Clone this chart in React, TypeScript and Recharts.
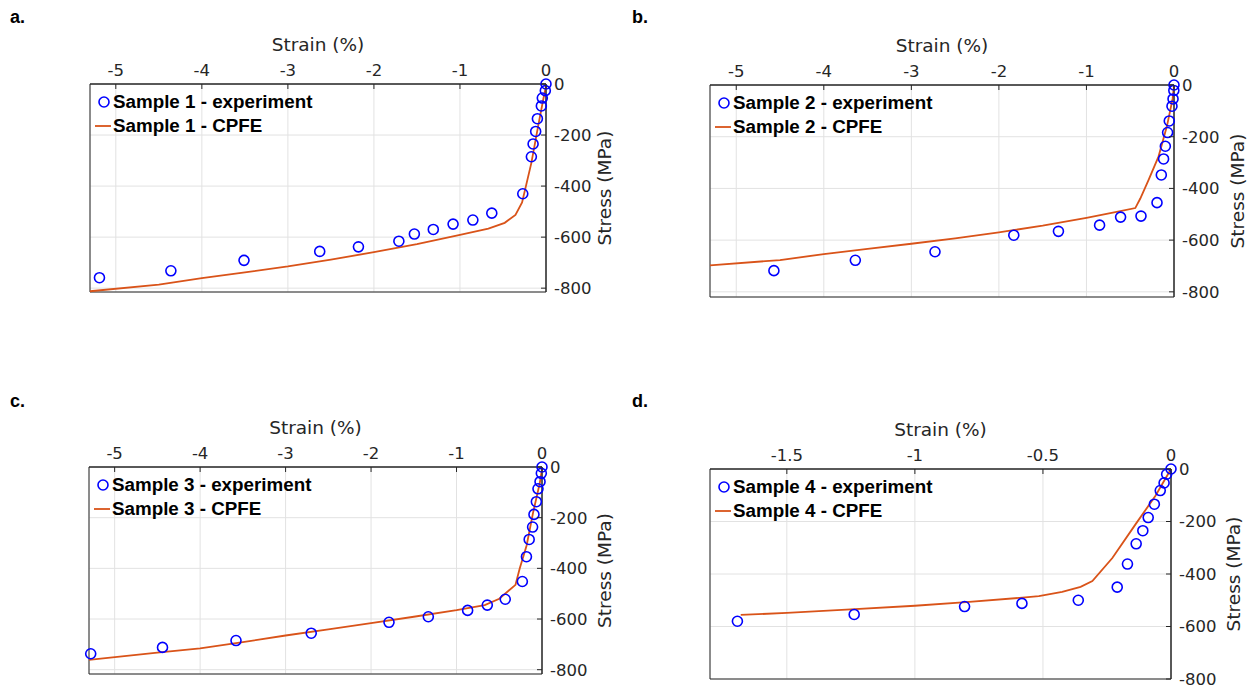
import React from "react";
import {
  ComposedChart,
  Line,
  Scatter,
  XAxis,
  YAxis,
  CartesianGrid,
  ReferenceArea,
  Legend,
} from "recharts";

const strainTicksWide = [-5, -4, -3, -2, -1, 0];
const strainTicksNarrow = [-1.5, -1, -0.5, 0];
const stressTicks = [-800, -600, -400, -200, 0];

// Sample 1
const s1ExpStrain = [-5.19, -4.36, -3.51, -2.63, -2.18, -1.71, -1.53, -1.31, -1.08, -0.85, -0.63, -0.27, -0.17, -0.15, -0.12, -0.1, -0.054, -0.043, -0.008, 0];
const s1ExpStress = [-759, -732, -691, -656, -638, -616, -588, -570, -549, -533, -506, -430, -285, -235, -186, -136, -86, -55, -26, 0];
const s1SimStrain = [-5.3, -4.5, -4, -3.5, -3, -2.5, -2, -1.5, -1, -0.67, -0.48, -0.355, -0.278, -0.17, -0.093, -0.027, 0];
const s1SimStress = [-812, -786, -761, -738, -715, -688, -659, -627, -591, -567, -544, -513, -464, -309, -168, -52, -10];

// Sample 2
const s2ExpStrain = [-4.57, -3.64, -2.73, -1.83, -1.32, -0.85, -0.61, -0.377, -0.194, -0.145, -0.119, -0.099, -0.073, -0.054, -0.023, -0.011, -0.002, 0];
const s2ExpStress = [-718, -678, -645, -581, -566, -542, -511, -507, -455, -348, -286, -237, -184, -139, -82, -54, -21, 0];
const s2SimStrain = [-5.3, -4.5, -4, -3.5, -3, -2.5, -2, -1.5, -1, -0.67, -0.442, -0.385, -0.29, -0.176, -0.08, -0.016, 0];
const s2SimStress = [-698, -677, -654, -634, -614, -593, -570, -544, -514, -492, -476, -439, -367, -276, -158, -54, -2];

// Sample 3
const s3ExpStrain = [-5.28, -4.44, -3.58, -2.7, -1.79, -1.33, -0.87, -0.64, -0.43, -0.23, -0.182, -0.15, -0.11, -0.094, -0.066, -0.047, -0.023, -0.008, 0];
const s3ExpStress = [-737, -712, -685, -656, -613, -591, -566, -545, -522, -452, -354, -286, -237, -187, -137, -86, -58, -25, 0];
const s3SimStrain = [-5.3, -4.5, -4, -3.5, -3, -2.5, -2, -1.5, -1, -0.67, -0.5, -0.31, -0.26, -0.18, -0.105, -0.027, 0];
const s3SimStress = [-761, -733, -716, -691, -665, -641, -616, -591, -565, -545, -520, -465, -400, -310, -181, -65, -10];

// Sample 4
const s4ExpStrain = [-1.693, -1.237, -0.806, -0.582, -0.362, -0.21, -0.17, -0.136, -0.11, -0.089, -0.065, -0.042, -0.027, -0.017, 0];
const s4ExpStress = [-580, -554, -524, -512, -500, -450, -362, -285, -235, -185, -134, -82, -53, -20, 0];
const s4SimStrain = [-1.68, -1.5, -1.25, -1, -0.8, -0.58, -0.516, -0.425, -0.353, -0.307, -0.229, -0.138, -0.06, 0];
const s4SimStress = [-556, -548, -535, -521, -507, -490, -484, -468, -449, -427, -339, -210, -101, 0];

const toPoints = (xs: number[], ys: number[]) => xs.map((x, i) => ({ x, y: ys[i] }));

const AXIS_TEXT = "#262626";
const FONT = "'DejaVu Sans', sans-serif";

// tick label + a short inward tick mark (matlab style)
function TopTick(props: any) {
  const { x, y, payload } = props;
  const axisY = y + 8;
  return (
    <g>
      <line x1={x} y1={axisY} x2={x} y2={axisY + 5} stroke="#262626" strokeWidth={1} />
      <text x={x} y={y} textAnchor="middle" fill={AXIS_TEXT} fontSize={16.5} fontFamily={FONT}>
        {payload.value}
      </text>
    </g>
  );
}

function RightTick(props: any) {
  const { x, y, payload } = props;
  const axisX = x - 8;
  return (
    <g>
      <line x1={axisX} y1={y} x2={axisX - 5} y2={y} stroke="#262626" strokeWidth={1} />
      <text x={x} y={y} dy="0.355em" textAnchor="start" fill={AXIS_TEXT} fontSize={16.5} fontFamily={FONT}>
        {payload.value}
      </text>
    </g>
  );
}

interface PanelProps {
  letter: string;
  sample: number;
  left: number;
  top: number;
  width: number;
  height: number;
  margin: { top: number; left: number; right: number; bottom: number };
  yAxisWidth: number;
  xDomain: [number, number];
  yDomain: [number, number];
  xTicks: number[];
  exp: { x: number; y: number }[];
  sim: { x: number; y: number }[];
  letterTop: number;
  letterLeft: number;
}

function LegendBox({ sample }: { sample: number }) {
  const rowStyle: React.CSSProperties = {
    display: "flex",
    alignItems: "center",
    height: 24,
    whiteSpace: "nowrap",
  };
  const textStyle: React.CSSProperties = {
    fontFamily: "'Liberation Sans', Arial, sans-serif",
    fontWeight: "bold",
    fontSize: 18.8,
    color: "#000",
    marginLeft: 2,
  };
  return (
    <div>
      <div style={rowStyle}>
        <svg width={16} height={24}>
          <circle cx={9} cy={12} r={5} fill="none" stroke="#0000ff" strokeWidth={1.6} />
        </svg>
        <span style={textStyle}>Sample {sample} - experiment</span>
      </div>
      <div style={rowStyle}>
        <svg width={16} height={24}>
          <line x1={0} y1={12} x2={16} y2={12} stroke="#d95319" strokeWidth={1.8} />
        </svg>
        <span style={textStyle}>Sample {sample} - CPFE</span>
      </div>
    </div>
  );
}

function Panel(p: PanelProps) {
  return (
    <>
      <div
        style={{
          position: "absolute",
          left: p.letterLeft,
          top: p.letterTop,
          fontFamily: "'Liberation Sans', Arial, sans-serif",
          fontWeight: "bold",
          fontSize: 18,
          color: "#000",
        }}
      >
        {p.letter}
      </div>
      <div style={{ position: "absolute", left: p.left, top: p.top }}>
        <ComposedChart width={p.width} height={p.height} margin={p.margin}>
          <CartesianGrid stroke="#e2e2e2" strokeWidth={1} />
          <XAxis
            dataKey="x"
            type="number"
            orientation="top"
            domain={p.xDomain}
            ticks={p.xTicks}
            interval={0}
            height={50}
            axisLine={{ stroke: "#262626" }}
            tickLine={false}
            tickSize={6}
            tick={<TopTick />}
            label={{
              value: "Strain (%)",
              position: "insideTop",
              offset: 4,
              fill: AXIS_TEXT,
              fontSize: 18.5,
              fontFamily: FONT,
            }}
          />
          <YAxis
            dataKey="y"
            type="number"
            orientation="right"
            domain={p.yDomain}
            ticks={stressTicks}
            interval={0}
            width={p.yAxisWidth}
            axisLine={{ stroke: "#262626" }}
            tickLine={false}
            tickSize={6}
            tick={<RightTick />}
            label={{
              value: "Stress (MPa)",
              position: "center",
              angle: -90,
              fill: AXIS_TEXT,
              fontSize: 18.5,
              fontFamily: FONT,
            }}
          />
          <ReferenceArea
            x1={p.xDomain[0]}
            x2={p.xDomain[1]}
            y1={p.yDomain[0]}
            y2={p.yDomain[1]}
            fill="none"
            fillOpacity={0}
            stroke="#262626"
            strokeWidth={1}
          />
          <Line
            data={p.sim}
            dataKey="y"
            stroke="#d95319"
            strokeWidth={1.8}
            dot={false}
            activeDot={false}
            type="linear"
            isAnimationActive={false}
          />
          <Scatter
            data={p.exp}
            dataKey="y"
            isAnimationActive={false}
            shape={(s: any) => (
              <circle cx={s.cx} cy={s.cy} r={5} fill="none" stroke="#0000ff" strokeWidth={1.6} />
            )}
          />
          <Legend
            layout="horizontal"
            align="center"
            verticalAlign="middle"
            wrapperStyle={{ left: p.margin.left + 5, top: p.margin.top + 50 + 6, width: "auto" }}
            content={() => <LegendBox sample={p.sample} />}
          />
        </ComposedChart>
      </div>
    </>
  );
}

export default function App() {
  return (
    <div
      style={{
        position: "absolute",
        left: 0,
        top: 0,
        width: 1252,
        height: 689,
        overflow: "hidden",
        background: "#fff",
      }}
    >
      <Panel
        letter="a."
        sample={1}
        left={0}
        top={0}
        width={662}
        height={300}
        margin={{ top: 34, left: 90, right: 0, bottom: 8 }}
        yAxisWidth={116}
        xDomain={[-5.3, 0]}
        yDomain={[-815, 0]}
        xTicks={strainTicksWide}
        exp={toPoints(s1ExpStrain, s1ExpStress)}
        sim={toPoints(s1SimStrain, s1SimStress)}
        letterLeft={10}
        letterTop={7}
      />
      <Panel
        letter="b."
        sample={2}
        left={620}
        top={0}
        width={680}
        height={305}
        margin={{ top: 35, left: 90, right: 0, bottom: 8 }}
        yAxisWidth={126}
        xDomain={[-5.3, 0]}
        yDomain={[-820, 0]}
        xTicks={strainTicksWide}
        exp={toPoints(s2ExpStrain, s2ExpStress)}
        sim={toPoints(s2SimStrain, s2SimStress)}
        letterLeft={632}
        letterTop={7}
      />
      <Panel
        letter="c."
        sample={3}
        left={0}
        top={380}
        width={666}
        height={302}
        margin={{ top: 37, left: 89, right: 0, bottom: 8 }}
        yAxisWidth={124}
        xDomain={[-5.3, 0]}
        yDomain={[-817, 0]}
        xTicks={strainTicksWide}
        exp={toPoints(s3ExpStrain, s3ExpStress)}
        sim={toPoints(s3SimStrain, s3SimStress)}
        letterLeft={10}
        letterTop={391}
      />
      <Panel
        letter="d."
        sample={4}
        left={620}
        top={380}
        width={676}
        height={309}
        margin={{ top: 39, left: 90, right: 0, bottom: 10 }}
        yAxisWidth={125}
        xDomain={[-1.8, 0]}
        yDomain={[-800, 0]}
        xTicks={strainTicksNarrow}
        exp={toPoints(s4ExpStrain, s4ExpStress)}
        sim={toPoints(s4SimStrain, s4SimStress)}
        letterLeft={632}
        letterTop={391}
      />
    </div>
  );
}
